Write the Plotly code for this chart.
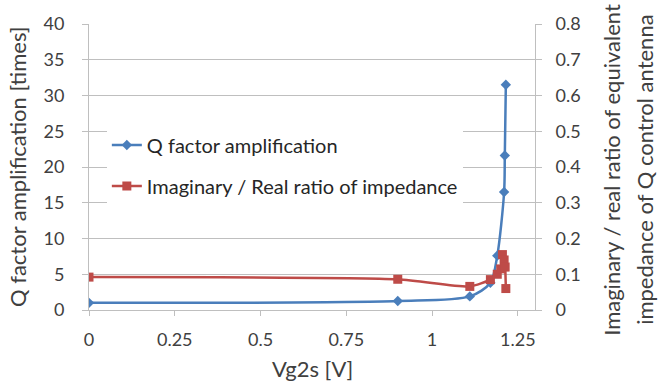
import plotly.graph_objects as go

# Data
q_x = [0, 0.9, 1.11, 1.17, 1.19, 1.21, 1.212, 1.215]
q_y = [1.0, 1.25, 1.9, 3.8, 7.6, 16.5, 21.6, 31.5]

r_x = [0, 0.9, 1.11, 1.17, 1.19, 1.2, 1.205, 1.21, 1.213, 1.215]
r_y = [0.092, 0.086, 0.066, 0.085, 0.1, 0.115, 0.155, 0.14, 0.12, 0.06]

x_ticks = [0, 0.25, 0.5, 0.75, 1, 1.25]
x_labels = ["0", "0.25", "0.5", "0.75", "1", "1.25"]
y2_ticks = [0, 0.1, 0.2, 0.3, 0.4, 0.5, 0.6, 0.7, 0.8]
y2_labels = ["0", "0.1", "0.2", "0.3", "0.4", "0.5", "0.6", "0.7", "0.8"]

BLUE = "#4A7EBB"
RED = "#BE4B48"
TXT = "#404040"
GRID = "#BFBFBF"
FONT = "Lato, Open Sans, sans-serif"

fig = go.Figure()
fig.add_trace(go.Scatter(
    x=q_x, y=q_y, name="Q factor amplification", mode="lines+markers",
    line=dict(color=BLUE, width=2.5, shape="spline", smoothing=0.8),
    marker=dict(symbol="diamond", size=8, color=BLUE),
    legendgroup="a", yaxis="y"))
fig.add_trace(go.Scatter(
    x=r_x, y=r_y, name="Imaginary / Real ratio of impedance", mode="lines+markers",
    line=dict(color=RED, width=2.5, shape="spline", smoothing=0.6),
    marker=dict(symbol="square", size=9, color=RED),
    legendgroup="b", yaxis="y2"))

fig.update_layout(
    width=660, height=389,
    margin=dict(l=89, r=125, t=15, b=79),
    paper_bgcolor="white", plot_bgcolor="white",
    font=dict(family=FONT, size=18, color=TXT),
    showlegend=True,
    legend=dict(x=0.04, y=0.645, xanchor="left", yanchor="top",
                bgcolor="white", font=dict(size=20, color="#262626"),
                tracegroupgap=12, itemwidth=30),
    xaxis=dict(range=[0, 1.3], tickvals=x_ticks, ticktext=x_labels,
               showgrid=False, zeroline=False, showline=True, linecolor=GRID,
               linewidth=1, ticks="outside", ticklen=5, tickcolor=GRID,
               ticklabelstandoff=8,
               tickfont=dict(size=18, color=TXT)),
    yaxis=dict(range=[0, 40], dtick=5, showgrid=True, gridcolor=GRID,
               zeroline=False, showline=True, linecolor=GRID,
               ticks="outside", ticklen=6, tickcolor=GRID,
               ticklabelstandoff=14,
               tickfont=dict(size=18, color=TXT)),
    yaxis2=dict(range=[0, 0.8], overlaying="y", side="right",
                showgrid=False, zeroline=False, showline=True, linecolor=GRID,
                ticks="outside", ticklen=6, tickcolor=GRID,
                tickvals=y2_ticks, ticktext=y2_labels,
                ticklabelstandoff=10,
                tickfont=dict(size=18, color=TXT)),
)

fig.add_annotation(text="Q factor amplification [times]", xref="paper", yref="paper",
                   x=(17 - 89) / 446, y=0.5, xanchor="center", yanchor="middle",
                   textangle=-90, showarrow=False, font=dict(size=22, color=TXT))
fig.add_annotation(text="Imaginary / real ratio of equivalent",
                   xref="paper", yref="paper", x=(612 - 89) / 446, y=0.49, xanchor="center",
                   yanchor="middle", textangle=-90, showarrow=False,
                   font=dict(size=22, color=TXT))
fig.add_annotation(text="impedance of Q control antenna",
                   xref="paper", yref="paper", x=(645 - 89) / 446, y=0.49, xanchor="center",
                   yanchor="middle", textangle=-90, showarrow=False,
                   font=dict(size=22, color=TXT))
fig.add_annotation(text="Vg2s [V]", xref="paper", yref="paper", x=0.5, y=-0.205,
                   xanchor="center", yanchor="middle", showarrow=False,
                   font=dict(size=22, color=TXT))

fig.write_html("out.html")
